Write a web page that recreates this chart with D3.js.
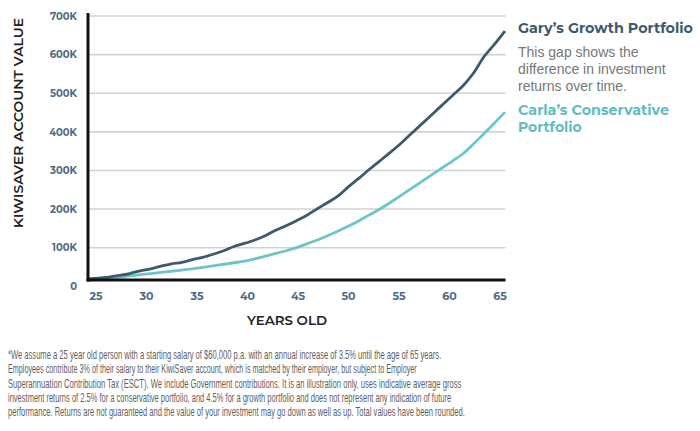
<!DOCTYPE html>
<html><head><meta charset="utf-8">
<script src="https://cdn.jsdelivr.net/npm/d3@7/dist/d3.min.js"></script>
<style>
html,body{margin:0;padding:0;background:#fff;}
svg{display:block;}
</style></head>
<body>
<svg id="chart" width="700" height="431"></svg>
<script>
const ages = d3.range(25, 66);
const garyValues = [19,21,24,28,33,40,45,52,58,62,69,75,83,92,103,111,120,131,145,157,170,184,201,217,234,258,280,303,325,347,370,395,420,445,470,495,520,553,595,627,661];
const carlaValues = [16,18,20,23,27,30,33,36,39,42,45,49,53,57,61,65,71,78,85,92,100,110,120,131,143,156,170,185,200,217,235,253,271,289,307,325,344,369,396,423,451];
const yTickValues = [0,100,200,300,400,500,600,700];
const xTickValues = [25,30,35,40,45,50,55,60,65];
const seriesNames = ["Gary\u2019s Growth Portfolio", "Carla\u2019s Conservative", "Portfolio"];
const noteLines = ["This gap shows the", "difference in investment", "returns over time."];
const footnote = [
 "*We assume a 25 year old person with a starting salary of $60,000 p.a. with an annual increase of 3.5% until the age of 65 years.",
 "Employees contribute 3% of their salary to their KiwiSaver account, which is matched by their employer, but subject to Employer",
 "Superannuation Contribution Tax (ESCT). We include Government contributions. It is an illustration only, uses indicative average gross",
 "investment returns of 2.5% for a conservative portfolio, and 4.5% for a growth portfolio and does not represent any indication of future",
 "performance. Returns are not guaranteed and the value of your investment may go down as well as up. Total values have been rounded."
];
const footWidths = [434, 409, 454, 444, 457];

const svg = d3.select("#chart");
const x = d3.scaleLinear().domain([25,65]).range([88,505]);
const xLabel = d3.scaleLinear().domain([25,65]).range([95.5,499.5]);
const y = d3.scaleLinear().domain([0,700]).range([286.3,16]);

// gridlines
svg.append("g").selectAll("line").data(yTickValues.filter(v=>v>0)).join("line")
  .attr("x1",88).attr("x2",505.5).attr("y1",d=>y(d)).attr("y2",d=>y(d))
  .attr("stroke","#d3d3d5").attr("stroke-width",1.6);

// y tick labels
const yAxis = d3.axisLeft(y).tickValues(yTickValues).tickSize(0).tickPadding(0)
  .tickFormat(d=> d===0 ? "0" : d+"K");
const gy = svg.append("g").attr("transform","translate(77,0)").call(yAxis);
gy.select(".domain").remove();
gy.selectAll("text").attr("font-family","Montserrat, 'Open Sans', sans-serif").attr("font-weight",700)
  .attr("font-size",10).attr("fill","#4d6a80");

// x tick labels
const xAxis = d3.axisBottom(xLabel).tickValues(xTickValues).tickSize(0).tickPadding(0);
const gx = svg.append("g").attr("transform","translate(0,292)").call(xAxis);
gx.select(".domain").remove();
gx.selectAll("text").attr("font-family","Montserrat, 'Open Sans', sans-serif").attr("font-weight",700)
  .attr("font-size",11).attr("fill","#4d6a80");

// lines
const line = d3.line().x((d,i)=>x(ages[i])).y(d=>y(d)).curve(d3.curveMonotoneX);
svg.append("path").datum(carlaValues).attr("d",line).attr("fill","none")
  .attr("stroke","#6cc5c7").attr("stroke-width",2.8);
svg.append("path").datum(garyValues).attr("d",line).attr("fill","none")
  .attr("stroke","#3d5a6b").attr("stroke-width",2.8);

// axes lines
svg.append("line").attr("x1",88).attr("x2",88).attr("y1",13).attr("y2",281.5)
  .attr("stroke","#111").attr("stroke-width",3);
svg.append("line").attr("x1",86.5).attr("x2",505.5).attr("y1",280).attr("y2",280)
  .attr("stroke","#111").attr("stroke-width",3);

// axis titles
svg.append("text").attr("transform","translate(22.5,123) rotate(-90)")
  .attr("text-anchor","middle").attr("font-family","Montserrat, 'Open Sans', sans-serif")
  .attr("font-weight",600).attr("font-size",13).attr("fill","#222")
  .attr("textLength",210).attr("lengthAdjust","spacingAndGlyphs")
  .text("KIWISAVER ACCOUNT VALUE");
svg.append("text").attr("x",287).attr("y",325).attr("text-anchor","middle")
  .attr("font-family","Montserrat, 'Open Sans', sans-serif").attr("font-weight",600)
  .attr("font-size",13).attr("fill","#222")
  .attr("textLength",80).attr("lengthAdjust","spacingAndGlyphs")
  .text("YEARS OLD");

// legend
svg.append("text").attr("x",518).attr("y",33).attr("font-family","Montserrat, 'Open Sans', sans-serif")
  .attr("font-weight",700).attr("font-size",14).attr("fill","#3d5a6b")
  .attr("textLength",175).attr("lengthAdjust","spacingAndGlyphs").text(seriesNames[0]);
svg.append("g").selectAll("text").data(noteLines).join("text")
  .attr("x",518).attr("y",(d,i)=>57+i*17).attr("font-family","'Liberation Sans', Arial, sans-serif")
  .attr("font-size",14).attr("fill","#777").text(d=>d);
svg.append("text").attr("x",518).attr("y",115).attr("font-family","Montserrat, 'Open Sans', sans-serif")
  .attr("font-weight",700).attr("font-size",14).attr("fill","#5fbcc0")
  .attr("textLength",151).attr("lengthAdjust","spacingAndGlyphs").text(seriesNames[1]);
svg.append("text").attr("x",518).attr("y",132).attr("font-family","Montserrat, 'Open Sans', sans-serif")
  .attr("font-weight",700).attr("font-size",14).attr("fill","#5fbcc0").text(seriesNames[2]);

// footnote: horizontally condensed text via scale transform
const fg = svg.append("g").selectAll("g").data(footnote).join("g");
fg.append("text").attr("x",0).attr("y",0)
  .attr("font-family","'Liberation Sans Narrow', 'Liberation Sans', Arial, sans-serif")
  .attr("font-size",12.5).attr("fill","#5f5f5f")
  .text(d=>d);
fg.each(function(d,i){
  const t = d3.select(this).select("text").node();
  const w = t.getComputedTextLength();
  const sx = footWidths[i] / w;
  d3.select(this).attr("transform",`translate(8,${359+i*14.3}) scale(${sx},1)`);
});
</script>
</body></html>
